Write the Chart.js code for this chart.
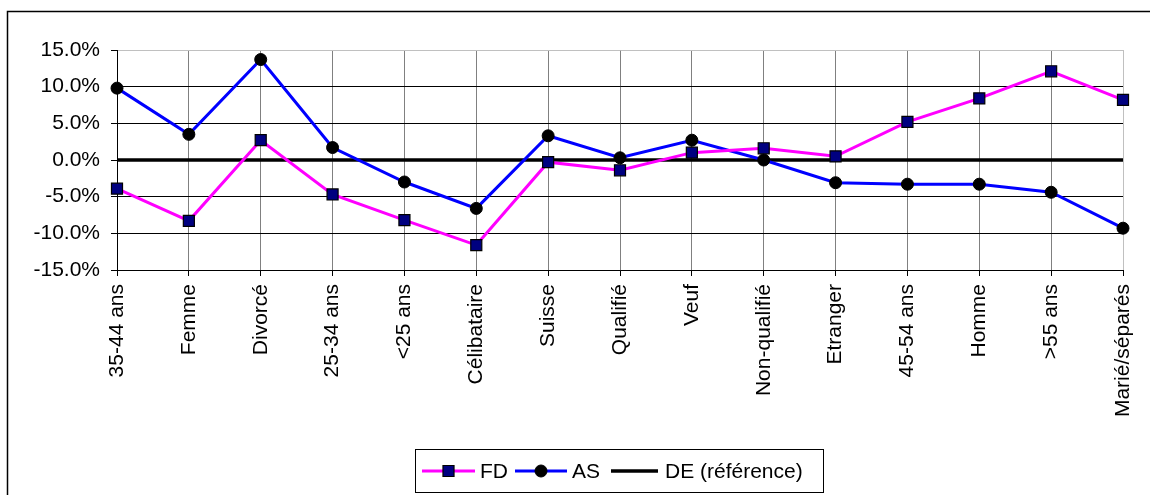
<!DOCTYPE html>
<html>
<head>
<meta charset="utf-8">
<title>FD / AS / DE</title>
<script src="https://cdn.jsdelivr.net/npm/chart.js@4.4.1/dist/chart.umd.min.js"></script>
<style>
  html, body { margin: 0; padding: 0; background: #fff; }
  #wrap { position: relative; width: 1150px; height: 495px; }
</style>
</head>
<body>
<div id="wrap">
  <canvas id="lineChart" width="1150" height="495"></canvas>
</div>
<script>
const categories = ['35-44 ans', 'Femme', 'Divorcé', '25-34 ans', '<25 ans', 'Célibataire', 'Suisse',
  'Qualifié', 'Veuf', 'Non-qualifié', 'Etranger', '45-54 ans', 'Homme', '>55 ans', 'Marié/séparés'];

const fdValues = [-3.9, -8.3, 2.7, -4.7, -8.2, -11.6, -0.3, -1.4, 1.0, 1.6, 0.5, 5.2, 8.4, 12.1, 8.2];
const asValues = [9.8, 3.5, 13.7, 1.7, -3.0, -6.6, 3.3, 0.3, 2.7, 0.0, -3.1, -3.3, -3.3, -4.4, -9.3];
const deValues = [0, 0, 0, 0, 0, 0, 0, 0, 0, 0, 0, 0, 0, 0, 0];

const yMin = -15;
const yMax = 15;
const yStep = 5;

const FONT = 'Liberation Sans, Arial, sans-serif';

// cadre + légende dessinés à la main (ligne + marqueur comme dans Excel)
const frameAndLegend = {
  id: 'frameAndLegend',
  beforeDraw(chart) {
    const ctx = chart.ctx;
    ctx.save();
    ctx.fillStyle = '#fff';
    ctx.fillRect(0, 0, chart.width, chart.height);
    ctx.strokeStyle = '#000';
    ctx.lineWidth = 1.5;
    ctx.beginPath();
    ctx.moveTo(7.5, chart.height);
    ctx.lineTo(7.5, 11.5);
    ctx.lineTo(chart.width, 11.5);
    ctx.stroke();
    ctx.restore();
  },
  afterDraw(chart) {
    const ctx = chart.ctx;
    ctx.save();
    ctx.strokeStyle = '#000';
    ctx.lineWidth = 1;
    ctx.strokeRect(415.5, 449.5, 408, 43);

    const y = 471;
    const items = [
      { ds: 0, x1: 422, x2: 475, tx: 480 },
      { ds: 1, x1: 515, x2: 567, tx: 572 },
      { ds: 2, x1: 611, x2: 658, tx: 665 }
    ];
    items.forEach(it => {
      const ds = chart.data.datasets[it.ds];
      ctx.strokeStyle = ds.borderColor;
      ctx.lineWidth = ds.borderWidth;
      ctx.beginPath();
      ctx.moveTo(it.x1, y);
      ctx.lineTo(it.x2, y);
      ctx.stroke();

      const cx = (it.x1 + it.x2) / 2;
      if (ds.pointRadius > 0) {
        ctx.fillStyle = ds.pointBackgroundColor;
        ctx.strokeStyle = ds.pointBorderColor;
        ctx.lineWidth = ds.pointBorderWidth;
        ctx.beginPath();
        if (ds.pointStyle === 'rect') {
          const s = ds.pointRadius * Math.SQRT1_2;
          ctx.rect(cx - s, y - s, 2 * s, 2 * s);
        } else {
          ctx.arc(cx, y, ds.pointRadius, 0, Math.PI * 2);
        }
        ctx.fill();
        ctx.stroke();
      }

      ctx.fillStyle = '#000';
      ctx.font = '21px ' + FONT;
      ctx.textBaseline = 'middle';
      ctx.textAlign = 'left';
      ctx.fillText(ds.label, it.tx, y + 1);
    });
    ctx.restore();
  }
};

const ctx = document.getElementById('lineChart');

new Chart(ctx, {
  type: 'line',
  data: {
    labels: categories,
    datasets: [
      {
        label: 'FD',
        data: fdValues,
        borderColor: '#ff00ff',
        borderWidth: 3,
        pointStyle: 'rect',
        pointRadius: 7.8,
        pointBackgroundColor: '#000080',
        pointBorderColor: '#000',
        pointBorderWidth: 1.2,
        tension: 0
      },
      {
        label: 'AS',
        data: asValues,
        borderColor: '#0000ff',
        borderWidth: 3,
        pointStyle: 'circle',
        pointRadius: 6,
        pointBackgroundColor: '#000',
        pointBorderColor: '#000',
        pointBorderWidth: 1,
        tension: 0
      },
      {
        label: 'DE (référence)',
        data: deValues,
        borderColor: '#000',
        borderWidth: 3.5,
        pointRadius: 0,
        tension: 0
      }
    ]
  },
  options: {
    responsive: false,
    animation: false,
    devicePixelRatio: 1,
    layout: {
      padding: { top: 50, right: 27, bottom: 0, left: 0 }
    },
    plugins: {
      legend: { display: false },
      tooltip: { enabled: false }
    },
    scales: {
      x: {
        offset: false,
        afterFit: scale => {
          scale.height = 225;
          scale.paddingLeft = 0;
          scale.paddingRight = 0;
        },
        grid: {
          color: c => (c.index === categories.length - 1 ? '#c0c0c0' : '#808080'),
          tickColor: '#000',
          tickLength: 6,
          lineWidth: 1
        },
        border: { color: '#000', width: 1 },
        ticks: {
          autoSkip: false,
          maxRotation: 90,
          minRotation: 90,
          padding: 8,
          color: '#000',
          font: { family: FONT, size: 21 }
        }
      },
      y: {
        min: yMin,
        max: yMax,
        afterFit: scale => { scale.width = 117; },
        grid: {
          color: c => (c.tick && c.tick.value === yMax ? '#c0c0c0' : '#000'),
          tickColor: '#000',
          tickLength: 6,
          lineWidth: 1
        },
        border: { color: '#000', width: 1 },
        ticks: {
          stepSize: yStep,
          padding: 11,
          color: '#000',
          font: { family: FONT, size: 21 },
          callback: v => v.toFixed(1) + '%'
        }
      }
    }
  },
  plugins: [frameAndLegend]
});
</script>
</body>
</html>
